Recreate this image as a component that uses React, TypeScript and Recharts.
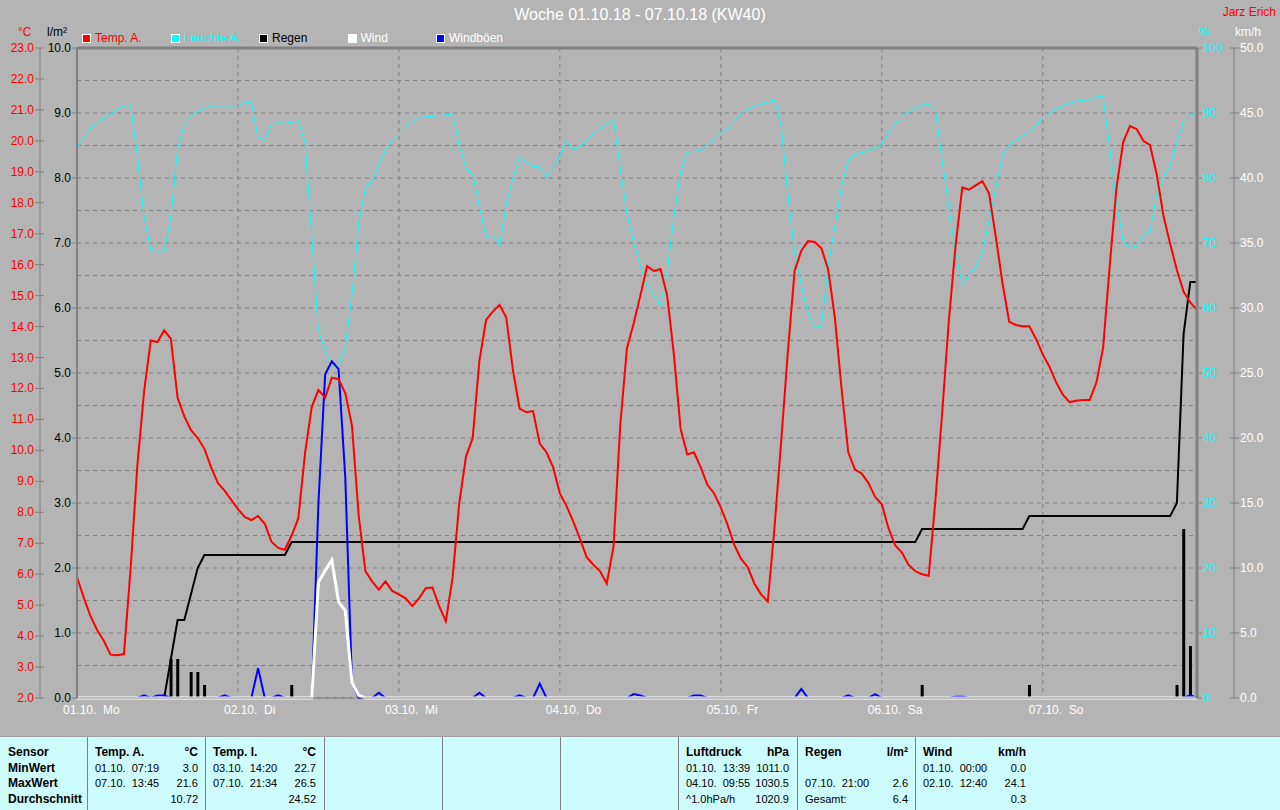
import React from 'react';
import {
  ComposedChart,
  Line,
  Bar,
  XAxis,
  YAxis,
  CartesianGrid,
  ReferenceLine
} from 'recharts';

// hourly readings, 01.10. 00:00 .. 07.10. 23:00
const tempA = [
  5.9, 5.25, 4.65, 4.2, 3.85, 3.4, 3.38, 3.42, 6.2, 9.5, 11.9, 13.55, 13.5, 13.88, 13.6, 11.7, 11.1, 10.65, 10.4, 10.05, 9.45, 8.95, 8.7, 8.4,
  8.1, 7.85, 7.75, 7.88, 7.63, 7.05, 6.85, 6.79, 7.25, 7.8, 9.9, 11.4, 11.95, 11.7, 12.35, 12.3, 11.85, 10.8, 7.9, 6.1, 5.77, 5.5, 5.77, 5.46,
  5.35, 5.22, 4.97, 5.22, 5.55, 5.57, 4.97, 4.48, 5.88, 8.3, 9.8, 10.4, 12.89, 14.22, 14.48, 14.7, 14.3, 12.6, 11.35, 11.23, 11.27, 10.22, 9.94, 9.45,
  8.61, 8.2, 7.7, 7.14, 6.55, 6.3, 6.09, 5.7, 6.9, 10.8, 13.3, 14.1, 15.0, 15.95, 15.8, 15.86, 15.0, 13.1, 10.7, 9.87, 9.94, 9.45, 8.89, 8.61,
  8.15, 7.6, 6.95, 6.5, 6.23, 5.7, 5.35, 5.11, 7.5, 10.3, 13.2, 15.8, 16.45, 16.76, 16.73, 16.53, 15.85, 14.3, 12.0, 9.94, 9.38, 9.25, 8.95, 8.5,
  8.26, 7.49, 6.93, 6.7, 6.3, 6.1, 6.0, 5.95, 8.4, 11.2, 14.2, 16.6, 18.5, 18.42, 18.56, 18.7, 18.3, 16.9, 15.4, 14.15, 14.05, 14.01, 14.01, 13.6,
  13.1, 12.7, 12.2, 11.8, 11.56, 11.6, 11.63, 11.63, 12.19, 13.31, 16.0, 18.5, 19.96, 20.48, 20.38, 20.0, 19.86, 18.91, 17.58, 16.67, 15.83, 15.13, 14.78, 14.54
];

const feuchteA = [
  84.7, 86.3, 87.6, 88.5, 89.3, 89.9, 90.6, 91.1, 91.2, 83.5, 74, 69, 68.6, 68.8, 74, 84.5, 88.3, 89.5, 90.2, 90.7, 91.1, 91.1, 91.1, 91.1,
  91.1, 91.7, 91.6, 86.2, 85.8, 88.3, 88.5, 88.4, 88.6, 88.8, 85.5, 71.2, 56.5, 53.5, 50.8, 51.2, 54, 62, 73, 78.5, 79.6, 82, 84.3, 85.8,
  86.9, 87.9, 88.6, 89.3, 89.4, 89.5, 89.6, 89.7, 89.9, 85, 81.5, 80.6, 75.5, 71, 71.2, 69.5, 76, 80, 83.3, 82.4, 81.8, 81.7, 80.2, 81.5,
  83.5, 85.5, 84.5, 84.7, 85.9, 86.8, 87.6, 88.3, 88.9, 81.5, 74.5, 70, 66.5, 63.6, 62, 60.4, 65.5, 74, 81, 84, 84.1, 84.2, 85.2, 85.9,
  87, 87.5, 88.7, 89.8, 90.6, 91.1, 91.3, 91.7, 92, 88, 77.5, 68.5, 63.5, 59.2, 57, 57.2, 66.5, 72.5, 78.8, 82.7, 83.6, 83.9, 84.2, 84.6,
  85.2, 87, 88.3, 89.6, 90.1, 90.7, 91.2, 91.3, 90.5, 82.7, 75.5, 68.5, 63.6, 65.1, 66.3, 68.6, 73.5, 78.5, 83.5, 85.1, 85.8, 86.5, 87.2, 88.2,
  89.1, 90, 90.6, 91.1, 91.5, 91.8, 92, 92, 92.5, 92.5, 84.5, 76.2, 70.2, 69.3, 69.5, 71.3, 71.8, 77.5, 80.2, 82, 85.5, 88.8, 89.9, 89.5
];

// [hour, l/m²] rain per hour
const regenStunde = [
  [14, 0.6], [15, 0.6], [17, 0.4], [18, 0.4], [19, 0.2], [32, 0.2],
  [126, 0.2], [142, 0.2], [164, 0.2], [165, 2.6], [166, 0.8]
];
// [hour, l/m²] level of the rain total where it changes
const regenSumme = [
  [0, 0], [14, 0.6], [15, 1.2], [17, 1.6], [18, 2.0], [19, 2.2], [32, 2.4],
  [126, 2.6], [142, 2.8], [164, 3.0], [165, 5.6], [166, 6.4]
];
// [hour, km/h]
const wind = [[36, 8.9], [37, 9.8], [38, 10.6], [39, 7.4], [40, 6.7], [41, 1.2], [42, 0.2]];
const windBoeen = [
  [10, 0.2], [12, 0.2], [13, 0.2], [22, 0.2], [27, 2.3], [30, 0.2],
  [36, 15], [37, 24.9], [38, 25.9], [39, 25.3], [40, 17], [41, 1.2],
  [45, 0.4], [60, 0.4], [66, 0.2], [69, 1.1], [83, 0.3], [84, 0.2], [92, 0.2], [93, 0.2],
  [108, 0.7], [115, 0.2], [119, 0.3], [131, 0.1], [132, 0.1], [166, 0.2]
];

const dayTicks = [0, 24, 48, 72, 96, 120, 144];
const dayLabels = ['01.10.  Mo', '02.10.  Di', '03.10.  Mi', '04.10.  Do', '05.10.  Fr', '06.10.  Sa', '07.10.  So'];
const tempTicks = [2, 3, 4, 5, 6, 7, 8, 9, 10, 11, 12, 13, 14, 15, 16, 17, 18, 19, 20, 21, 22, 23];
const rainTicks = [0, 1, 2, 3, 4, 5, 6, 7, 8, 9, 10];
const humTicks = [0, 10, 20, 30, 40, 50, 60, 70, 80, 90, 100];
const windTicks = [0, 2.5, 5, 7.5, 10, 12.5, 15, 17.5, 20, 22.5, 25, 27.5, 30, 32.5, 35, 37.5, 40, 42.5, 45, 47.5, 50];

const legendItems = [
  { label: 'Temp. A.', box: '#ff0000', text: '#ff0000' },
  { label: 'Feuchte A.', box: '#00ffff', text: '#00ffff' },
  { label: 'Regen', box: '#000000', text: '#000000' },
  { label: 'Wind', box: '#ffffff', text: '#ffffff' },
  { label: 'Windböen', box: '#0000ff', text: '#ffffff' }
];

const statsCols = [
  { sep: 87, rows: [['Temp. A.', '°C'], ['01.10.  07:19', '3.0'], ['07.10.  13:45', '21.6'], ['', '10.72']] },
  { sep: 205, rows: [['Temp. I.', '°C'], ['03.10.  14:20', '22.7'], ['07.10.  21:34', '26.5'], ['', '24.52']] },
  { sep: 324, rows: [] },
  { sep: 442, rows: [] },
  { sep: 560, rows: [] },
  { sep: 678, rows: [['Luftdruck', 'hPa'], ['01.10.  13:39', '1011.0'], ['04.10.  09:55', '1030.5'], ['^1.0hPa/h', '1020.9']] },
  { sep: 797, rows: [['Regen', 'l/m²'], ['', ''], ['07.10.  21:00', '2.6'], ['Gesamt:', '6.4']] },
  { sep: 915, rows: [['Wind', 'km/h'], ['01.10.  00:00', '0.0'], ['02.10.  12:40', '24.1'], ['', '0.3']] }
];
const rowLabels = ['Sensor', 'MinWert', 'MaxWert', 'Durchschnitt'];

const BG = '#b4b4b4';
const AXIS = '#808080';
const FONT = '"Liberation Sans", Arial, sans-serif';
const TS = 5;
const TM = 2;

const rows = tempA.map((t, h) => {
  const rain = regenStunde.find((r) => r[0] === h);
  let total = 0;
  regenSumme.forEach((r) => { if (r[0] <= h) total = r[1]; });
  const w = wind.find((r) => r[0] === h);
  const g = windBoeen.find((r) => r[0] === h);
  return {
    h,
    temp: t,
    hum: feuchteA[h],
    rain: rain ? rain[1] : null,
    total,
    wind: w ? w[1] : 0,
    gust: g ? g[1] : 0
  };
});

const makeYTick = (side: 'left' | 'right', color: string, fmt: (v: number) => string, cross: number, every?: number) =>
  (p: any) => {
    const v = p.payload.value;
    if (every && Math.abs(v / every - Math.round(v / every)) > 1e-6) return <g />;
    if (side === 'left') {
      const ax = p.x + TS + TM;
      return (
        <g>
          <line x1={ax - TS} x2={ax + cross} y1={p.y} y2={p.y} stroke={AXIS} />
          <text x={ax - 6} y={p.y} textAnchor="end" dominantBaseline="central" fill={color} fontSize={12} fontFamily={FONT}>
            {fmt(v)}
          </text>
        </g>
      );
    }
    const ax = p.x - TS - TM;
    return (
      <g>
        <line x1={ax - cross} x2={ax + TS} y1={p.y} y2={p.y} stroke={AXIS} />
        <text x={ax + 6} y={p.y} textAnchor="start" dominantBaseline="central" fill={color} fontSize={12} fontFamily={FONT}>
          {fmt(v)}
        </text>
      </g>
    );
  };

const DayTick = (p: any) => {
  const i = dayTicks.indexOf(p.payload.value);
  return (
    <text x={p.x - 14} y={p.y + 8} textAnchor="start" fill="#ffffff" fontSize={12} fontFamily={FONT} style={{ whiteSpace: 'pre' }}>
      {dayLabels[i]}
    </text>
  );
};

const TempTick = makeYTick('left', '#ff0000', (v) => v.toFixed(1), 4);
const RainTick = makeYTick('left', '#000000', (v) => v.toFixed(1), 0);
const HumTick = makeYTick('right', '#00ffff', (v) => String(v), 0);
const WindTick = makeYTick('right', '#ffffff', (v) => v.toFixed(1), 4, 5);

const App: React.FC = () => {
  return (
    <div style={{ position: 'absolute', left: 0, top: 0, width: 1280, height: 810, background: BG, fontFamily: FONT, overflow: 'hidden' }}>
      <ComposedChart width={1280} height={737} data={rows} margin={{ top: 48, right: 0, bottom: 0, left: 0 }}>
        <CartesianGrid yAxisId="wind" stroke={AXIS} strokeDasharray="4 4" />
        <XAxis
          dataKey="h"
          type="number"
          domain={[0, 167]}
          ticks={dayTicks}
          interval={0}
          height={39}
          tickLine={false}
          axisLine={{ stroke: AXIS, strokeWidth: 1 }}
          tick={<DayTick />}
        />
        <YAxis yAxisId="temp" orientation="left" width={40} domain={[2, 23]} ticks={tempTicks} interval={0}
          tickSize={TS} tickMargin={TM} tickLine={false} axisLine={{ stroke: AXIS }} tick={<TempTick />} />
        <YAxis yAxisId="rain" orientation="left" width={37} domain={[0, 10]} ticks={rainTicks} interval={0}
          tickSize={TS} tickMargin={TM} tickLine={false} axisLine={{ stroke: AXIS, strokeWidth: 2 }} tick={<RainTick />} />
        <YAxis yAxisId="hum" orientation="right" width={37} domain={[0, 100]} ticks={humTicks} interval={0}
          tickSize={TS} tickMargin={TM} tickLine={false} axisLine={{ stroke: AXIS, strokeWidth: 3 }} tick={<HumTick />} />
        <YAxis yAxisId="wind" orientation="right" width={46} domain={[0, 50]} ticks={windTicks} interval={0}
          tickSize={TS} tickMargin={TM} tickLine={false} axisLine={{ stroke: AXIS }} tick={<WindTick />} />
        <ReferenceLine yAxisId="rain" y={10} stroke={AXIS} strokeWidth={3} />

        <Line yAxisId="hum" dataKey="hum" type="linear" stroke="#00ffff" strokeWidth={1} dot={false} isAnimationActive={false} />
        <Bar yAxisId="rain" dataKey="rain" fill="#000000" barSize={3} isAnimationActive={false} />
        <Line yAxisId="rain" dataKey="total" type="linear" stroke="#000000" strokeWidth={2} dot={false} isAnimationActive={false} />
        <Line yAxisId="wind" dataKey="gust" type="linear" stroke="#0000ff" strokeWidth={2} dot={false} isAnimationActive={false} />
        <Line yAxisId="wind" dataKey="wind" type="linear" stroke="#ffffff" strokeWidth={3} dot={false} isAnimationActive={false} />
        <Line yAxisId="temp" dataKey="temp" type="linear" stroke="#ff0000" strokeWidth={2} dot={false} isAnimationActive={false} />
      </ComposedChart>

      <div style={{ position: 'absolute', left: 0, top: 6, width: 1280, textAlign: 'center', color: '#ffffff', fontSize: 16 }}>
        Woche 01.10.18 - 07.10.18 (KW40)
      </div>
      <div style={{ position: 'absolute', right: 4, top: 5, color: '#ff0000', fontSize: 12, whiteSpace: 'nowrap' }}>Jarz Erich</div>
      <div style={{ position: 'absolute', left: 18, top: 25, color: '#ff0000', fontSize: 12 }}>°C</div>
      <div style={{ position: 'absolute', left: 47, top: 25, color: '#000000', fontSize: 12 }}>l/m²</div>
      <div style={{ position: 'absolute', left: 1199, top: 25, color: '#00ffff', fontSize: 12 }}>%</div>
      <div style={{ position: 'absolute', left: 1235, top: 25, color: '#ffffff', fontSize: 12, whiteSpace: 'nowrap' }}>km/h</div>

      {legendItems.map((it, i) => (
        <div key={it.label} style={{ position: 'absolute', left: 82 + i * 88.5, top: 31, display: 'flex', alignItems: 'center', whiteSpace: 'nowrap' }}>
          <div style={{ width: 7, height: 7, background: it.box, border: '1px solid #ffffff' }} />
          <span style={{ marginLeft: 4, color: it.text, fontSize: 12, lineHeight: '14px' }}>{it.label}</span>
        </div>
      ))}

      <div style={{ position: 'absolute', left: 0, top: 736, width: 1280, height: 74, background: '#ccfcfc', borderTop: '1px solid #a0a0a0' }}>
        {rowLabels.map((r, i) => (
          <div key={r} style={{ position: 'absolute', left: 8, top: 7 + i * 15.7, fontSize: 12, fontWeight: 'bold', color: '#000', lineHeight: '16px' }}>
            {r}
          </div>
        ))}
        {statsCols.map((c) => (
          <div key={c.sep} style={{ position: 'absolute', left: c.sep, top: 0, width: 118, height: 74, borderLeft: '1px solid #808080' }}>
            {c.rows.map((r, i) => (
              <div key={i} style={{
                position: 'absolute', left: 7, right: 8, top: 7 + i * 15.7, display: 'flex', justifyContent: 'space-between',
                fontSize: i === 0 ? 12 : 11, fontWeight: i === 0 ? 'bold' : 'normal', color: '#000', lineHeight: '16px', whiteSpace: 'pre'
              }}>
                <span>{r[0]}</span>
                <span>{r[1]}</span>
              </div>
            ))}
          </div>
        ))}
      </div>
    </div>
  );
};

export default App;
